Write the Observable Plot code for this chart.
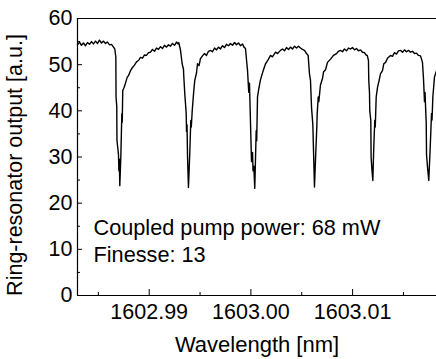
<!DOCTYPE html>
<html>
<head>
<meta charset="utf-8">
<script src="https://cdn.jsdelivr.net/npm/d3@7"></script>
<script src="https://cdn.jsdelivr.net/npm/@observablehq/plot@0.6"></script>
<style>
  html, body { margin: 0; padding: 0; background: #fff; }
  #chart svg { display: block; }
</style>
</head>
<body>
<div id="chart"></div>
<script>
// Wavelength (nm) of each sample
const wavelength = [
  1602.98295, 1602.98315, 1602.98334, 1602.98354, 1602.98374, 1602.98393, 1602.98413, 1602.98433,
  1602.98452, 1602.98472, 1602.98492, 1602.98511, 1602.98531, 1602.98551, 1602.98570, 1602.98590,
  1602.98610, 1602.98629, 1602.98649, 1602.98662, 1602.98672, 1602.98674, 1602.98681, 1602.98683,
  1602.98691, 1602.98698, 1602.98702, 1602.98706, 1602.98711, 1602.98721, 1602.98731, 1602.98735,
  1602.98740, 1602.98754, 1602.98767, 1602.98784, 1602.98796, 1602.98816, 1602.98836, 1602.98855,
  1602.98875, 1602.98895, 1602.98914, 1602.98934, 1602.98954, 1602.98973, 1602.98993, 1602.99013,
  1602.99032, 1602.99052, 1602.99072, 1602.99091, 1602.99111, 1602.99131, 1602.99150, 1602.99170,
  1602.99190, 1602.99209, 1602.99229, 1602.99249, 1602.99268, 1602.99283, 1602.99291, 1602.99308,
  1602.99324, 1602.99337, 1602.99340, 1602.99350, 1602.99364, 1602.99367, 1602.99372, 1602.99377,
  1602.99386, 1602.99399, 1602.99409, 1602.99414, 1602.99423, 1602.99436, 1602.99448, 1602.99465,
  1602.99475, 1602.99490, 1602.99504, 1602.99524, 1602.99544, 1602.99563, 1602.99583, 1602.99603,
  1602.99622, 1602.99642, 1602.99662, 1602.99681, 1602.99701, 1602.99721, 1602.99740, 1602.99760,
  1602.99780, 1602.99799, 1602.99819, 1602.99839, 1602.99858, 1602.99878, 1602.99898, 1602.99917,
  1602.99932, 1602.99947, 1602.99957, 1602.99967, 1602.99979, 1602.99986, 1602.99993, 1603.00006,
  1603.00016, 1603.00021, 1603.00029, 1603.00038, 1603.00052, 1603.00057, 1603.00065, 1603.00078,
  1603.00094, 1603.00111, 1603.00124, 1603.00144, 1603.00163, 1603.00193, 1603.00212, 1603.00242,
  1603.00262, 1603.00291, 1603.00311, 1603.00330, 1603.00350, 1603.00370, 1603.00389, 1603.00409,
  1603.00429, 1603.00448, 1603.00468, 1603.00488, 1603.00507, 1603.00527, 1603.00547, 1603.00563,
  1603.00576, 1603.00586, 1603.00596, 1603.00609, 1603.00619, 1603.00625, 1603.00638, 1603.00648,
  1603.00652, 1603.00662, 1603.00668, 1603.00684, 1603.00704, 1603.00714, 1603.00734, 1603.00753,
  1603.00783, 1603.00812, 1603.00842, 1603.00861, 1603.00881, 1603.00901, 1603.00920, 1603.00940,
  1603.00960, 1603.00979, 1603.00999, 1603.01019, 1603.01038, 1603.01058, 1603.01078, 1603.01097,
  1603.01117, 1603.01132, 1603.01144, 1603.01156, 1603.01159, 1603.01166, 1603.01169, 1603.01179,
  1603.01182, 1603.01191, 1603.01199, 1603.01208, 1603.01218, 1603.01223, 1603.01232, 1603.01245,
  1603.01260, 1603.01274, 1603.01294, 1603.01307, 1603.01324, 1603.01343, 1603.01373, 1603.01392,
  1603.01412, 1603.01432, 1603.01451, 1603.01471, 1603.01491, 1603.01510, 1603.01530, 1603.01550,
  1603.01569, 1603.01589, 1603.01609, 1603.01628, 1603.01648, 1603.01668, 1603.01687, 1603.01697,
  1603.01707, 1603.01712, 1603.01724, 1603.01727, 1603.01737, 1603.01749, 1603.01763, 1603.01776,
  1603.01781, 1603.01789, 1603.01805, 1603.01825
];

// Ring-resonator output (a.u.) at each sample
const output = [
  54.3, 54.9, 54.2, 54.7, 54.1, 54.8, 54.4, 55.0,
  54.5, 55.1, 54.6, 55.3, 54.7, 55.1, 54.6, 54.9,
  54.3, 54.4, 53.8, 53.4, 51.6, 43.0, 41.0, 33.6,
  32.0, 30.5, 27.0, 29.5, 23.8, 30.0, 39.4, 37.5,
  44.4, 45.1, 46.0, 47.3, 47.6, 48.7, 49.4, 49.9,
  50.6, 50.9, 51.6, 51.4, 52.1, 52.0, 52.6, 52.7,
  53.3, 52.9, 53.6, 53.3, 53.9, 53.5, 54.2, 53.8,
  54.3, 54.0, 54.6, 54.2, 54.9, 54.5, 54.8, 53.1,
  50.2, 49.0, 47.5, 43.7, 39.4, 35.5, 37.0, 30.0,
  23.4, 30.8, 37.9, 36.5, 40.0, 43.7, 46.6, 48.2,
  50.2, 49.8, 51.3, 51.9, 52.4, 52.0, 52.9, 53.1,
  52.8, 53.6, 53.2, 53.8, 53.4, 54.1, 53.7, 54.4,
  54.1, 54.6, 54.2, 54.8, 54.3, 54.7, 54.1, 54.5,
  53.8, 53.5, 51.0, 48.7, 44.0, 46.0, 40.0, 29.0,
  31.0, 27.0, 28.0, 23.2, 35.7, 33.5, 43.0, 44.8,
  46.7, 48.0, 48.9, 50.2, 50.8, 52.0, 51.7, 52.7,
  52.4, 53.1, 53.4, 53.0, 53.7, 53.3, 53.8, 53.4,
  54.0, 53.6, 54.0, 53.6, 53.3, 53.1, 52.4, 52.0,
  48.0, 46.6, 40.8, 37.0, 28.6, 23.5, 31.0, 36.4,
  39.4, 43.0, 42.0, 45.6, 47.0, 48.4, 48.9, 50.5,
  51.2, 52.0, 52.4, 52.9, 53.1, 52.8, 53.4, 53.0,
  53.6, 53.4, 53.7, 53.2, 53.5, 53.0, 53.2, 52.7,
  52.6, 52.1, 52.0, 50.9, 46.6, 44.0, 40.0, 37.9,
  30.0, 27.0, 24.9, 32.0, 37.9, 36.5, 43.0, 45.1,
  46.5, 48.0, 48.7, 50.2, 50.5, 51.4, 52.0, 51.8,
  52.6, 52.3, 53.0, 53.1, 52.7, 53.2, 52.8, 53.1,
  52.7, 52.9, 52.4, 52.5, 52.0, 51.9, 50.5, 47.0,
  42.0, 44.0, 37.3, 30.5, 27.7, 24.9, 32.0, 39.4,
  38.0, 43.0, 47.3, 48.7
];

// Axis extents and ticks
const xDomain = [1602.98295, 1603.01825];
const yDomain = [0, 60];
const xMajorTicks = [1602.99, 1603.00, 1603.01];
const xMinorTicks = [1602.985, 1602.995, 1603.005, 1603.015];
const yMajorTicks = [0, 10, 20, 30, 40, 50, 60];
const yMinorTicks = [5, 15, 25, 35, 45, 55];

// Text
const xTitle = "Wavelength [nm]";
const yTitle = "Ring-resonator output [a.u.]";
const annotation = ["Coupled pump power: 68 mW", "Finesse: 13"];

const W = 436, H = 359;
const mL = 77, mR = 0, mT = 18, mB = 64;
const innerW = W - mL - mR, innerH = H - mT - mB;

const idx = d3.range(wavelength.length);

const chart = Plot.plot({
  width: W,
  height: H,
  marginLeft: mL,
  marginRight: mR,
  marginTop: mT,
  marginBottom: mB,
  style: {
    fontFamily: "'Liberation Sans', Arial, Helvetica, sans-serif",
    fontSize: "21px",
    color: "#000",
    background: "#fff",
    overflow: "visible"
  },
  x: { domain: xDomain, axis: null },
  y: { domain: yDomain, axis: null },
  marks: [
    // frame (left, bottom, top; right side cut off)
    Plot.ruleY([yDomain[0], yDomain[1]], { stroke: "#000", strokeWidth: 1.2 }),
    Plot.ruleX([xDomain[0]], { stroke: "#000", strokeWidth: 1.2 }),
    // inward ticks
    Plot.tickX(xMajorTicks, { x: d => d, insetTop: innerH - 6, stroke: "#000" }),
    Plot.tickX(xMinorTicks, { x: d => d, insetTop: innerH - 3, stroke: "#000" }),
    Plot.tickY(yMajorTicks, { y: d => d, insetRight: innerW - 5, stroke: "#000" }),
    Plot.tickY(yMinorTicks, { y: d => d, insetRight: innerW - 3, stroke: "#000" }),
    // tick labels
    Plot.axisX({ ticks: xMajorTicks, tickSize: 0, tickPadding: 8, tickFormat: d3.format(".2f"), label: null, fontSize: 21.5 }),
    Plot.axisY({ ticks: yMajorTicks, tickSize: 0, tickPadding: 5, label: null, fontSize: 21.5 }),
    // axis titles
    Plot.text([xTitle], { text: d => d, frameAnchor: "bottom", dy: 56, fontSize: 22, lineAnchor: "bottom" }),
    Plot.text([yTitle], { text: d => d, frameAnchor: "left", textAnchor: "middle", dx: -62, dy: 8, rotate: -90, fontSize: 21.5, lineAnchor: "middle" }),
    // trace
    Plot.line(idx, { x: i => wavelength[i], y: i => output[i], stroke: "#000", strokeWidth: 1.4 }),
    // annotation
    Plot.text([annotation.join("\n")], { text: d => d, frameAnchor: "top-left", dx: 16, dy: 197, textAnchor: "start", lineAnchor: "top", fontSize: 21.7, lineHeight: 1.25 })
  ]
});

document.getElementById("chart").appendChild(chart);
</script>
</body>
</html>
